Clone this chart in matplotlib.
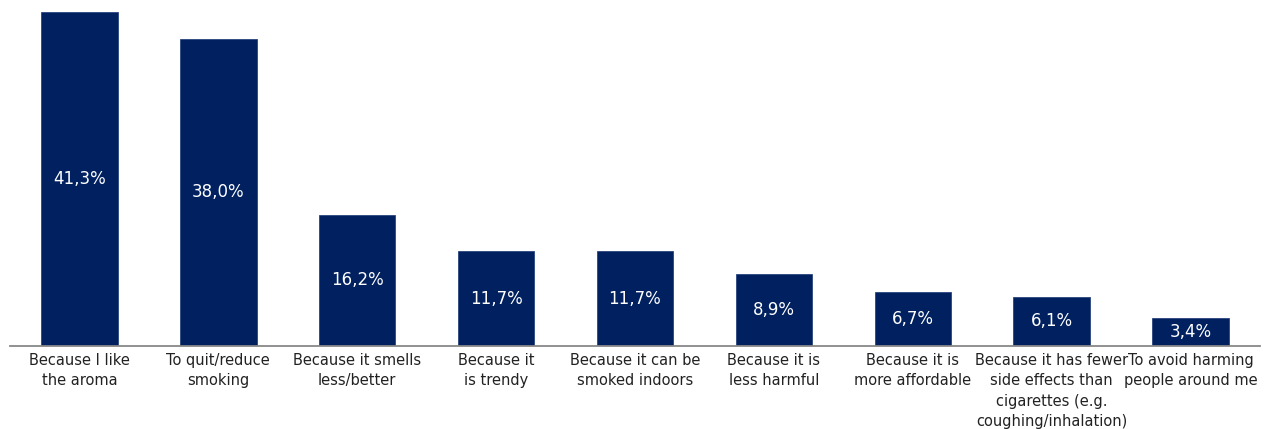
import matplotlib
matplotlib.use("Agg")
import matplotlib.pyplot as plt

categories = [
    "Because I like\nthe aroma",
    "To quit/reduce\nsmoking",
    "Because it smells\nless/better",
    "Because it\nis trendy",
    "Because it can be\nsmoked indoors",
    "Because it is\nless harmful",
    "Because it is\nmore affordable",
    "Because it has fewer\nside effects than\ncigarettes (e.g.\ncoughing/inhalation)",
    "To avoid harming\npeople around me",
]
values = [41.3, 38.0, 16.2, 11.7, 11.7, 8.9, 6.7, 6.1, 3.4]
value_labels = ["41,3%", "38,0%", "16,2%", "11,7%", "11,7%", "8,9%", "6,7%", "6,1%", "3,4%"]

W, H = 1265, 429
fig = plt.figure(figsize=(W / 100, H / 100), dpi=100)
ax = fig.add_axes([10 / W, (H - 346) / H, 1250 / W, 346 / H])

x = list(range(len(values)))
bars = ax.bar(x, values, width=0.55, color="#002060", edgecolor="#2a4680", linewidth=0.6, zorder=2)
ax.set_xlim(-0.5, len(values) - 0.5)
ax.set_ylim(0, 346 / 8.09)

for xi, v, lab in zip(x, values, value_labels):
    ax.text(xi, v / 2, lab, ha="center", va="center", color="white", fontsize=12)

ax.set_xticks(x)
ax.set_xticklabels(categories, fontsize=10.5, color="#222222", linespacing=1.45)
ax.tick_params(axis="x", length=0, pad=5)
ax.set_yticks([])
for s in ["top", "right", "left"]:
    ax.spines[s].set_visible(False)
ax.spines["bottom"].set_color("#888888")
ax.spines["bottom"].set_linewidth(1.3)

fig.savefig("out.png", dpi=100)
